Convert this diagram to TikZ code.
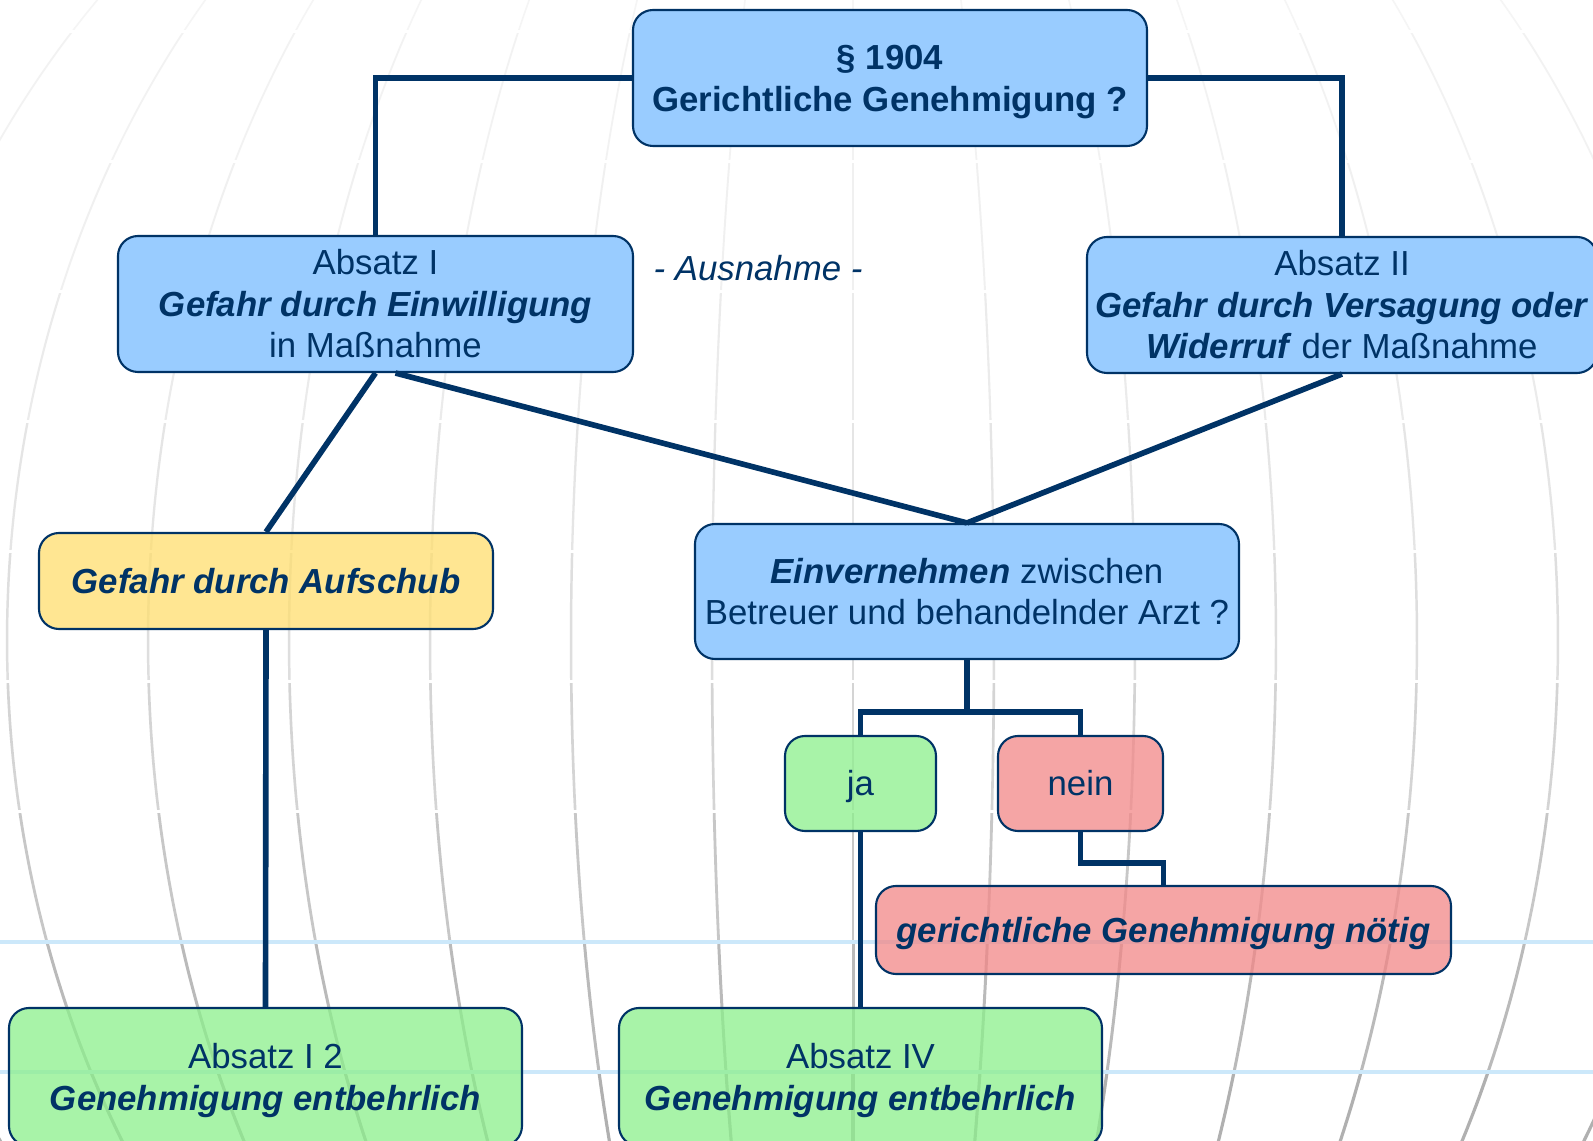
\documentclass[tikz,border=0pt]{standalone}
\usepackage{fontspec}
\setmainfont{Liberation Sans}
\usepackage{xcolor}
\usepackage{tikz}
\usetikzlibrary{positioning,calc}

\definecolor{navy}{RGB}{0,51,102}
\definecolor{skyfill}{RGB}{153,204,255}
\definecolor{sandfill}{RGB}{255,222,110}
\definecolor{leaffill}{RGB}{140,240,140}
\definecolor{rosefill}{RGB}{242,135,135}
\definecolor{paleline}{RGB}{204,232,250}

\begin{document}
\begin{tikzpicture}[
    every node/.style={text=navy, font=\fontsize{9.9pt}{11.8pt}\selectfont, align=center, inner sep=0pt},
    box/.style={draw=navy, line width=0.6pt, rounded corners=0.2cm, text height=9.5pt, text depth=2.5pt},
    tworow/.style={text height=21.3pt},
    threerow/.style={text height=33.1pt},
    bluebox/.style={box, fill=skyfill},
    yellowbox/.style={box, fill=sandfill, fill opacity=0.75, text opacity=1},
    greenbox/.style={box, fill=leaffill, fill opacity=0.75, text opacity=1},
    redbox/.style={box, fill=rosefill, fill opacity=0.75, text opacity=1},
    link/.style={draw=navy, line width=1.6pt}
]
    \useasboundingbox (0,0) rectangle (15.93,-11.41);
    \clip (0,0) rectangle (15.93,-11.41);
    \fill[white] (0,0) rectangle (15.93,-11.41);

    \foreach \ya/\yb/\g/\w in {0.00/0.30/4/0.45, 0.34/1.60/5/0.5, 1.64/2.90/6/0.55, 2.94/4.20/8/0.6, 4.24/5.50/10/0.65, 5.54/6.80/13/0.7, 6.84/8.10/17/0.75, 8.14/9.40/22/0.8, 9.44/10.70/27/0.85, 10.74/11.50/31/0.9} {
        \begin{scope}
            \clip (0,-\ya) rectangle (15.93,-\yb);
            \foreach \k in {-7,...,6}
                \draw[black!\g, line width=\w pt] plot[domain=-45:36, samples=40, smooth] ({8.53+1.41*(\k)*cos(\x)}, {-6.40-9.95*sin(\x)});
        \end{scope}
    }
    \foreach \y in {9.42,10.72}
        \draw[paleline, line width=1.1pt] (0,-\y) -- (15.93,-\y);

    \node (gen) [bluebox, tworow, minimum width=5.14cm, minimum height=1.36cm] at (8.90,-0.78) {\textbf{§ 1904}\\\textbf{Gerichtliche Genehmigung ?}};

    \node (absI) [bluebox, threerow, minimum width=5.15cm, minimum height=1.36cm] at (3.755,-3.04) {Absatz I\\\textbf{\textit{Gefahr durch Einwilligung}}\\in Maßnahme};
    \node (absII) [bluebox, threerow, minimum width=5.10cm, minimum height=1.36cm] at (13.42,-3.05) {Absatz II\\\textbf{\textit{Gefahr durch Versagung oder}}\\\textbf{\textit{Widerruf\nocorr}} der Maßnahme};
    \node (ausnahme) at (7.58,-2.68) {\textit{- Ausnahme -}};

    \node (aufschub) [yellowbox, minimum width=4.54cm, minimum height=0.96cm] at (2.66,-5.81) {\textbf{\textit{Gefahr durch Aufschub}}};
    \node (einv) [bluebox, tworow, minimum width=5.44cm, minimum height=1.35cm] at (9.67,-5.915) {\textbf{\textit{Einvernehmen\nocorr}} zwischen\\Betreuer und behandelnder Arzt ?};

    \node (ja) [greenbox, minimum width=1.51cm, minimum height=0.95cm] at (8.605,-7.835) {ja};
    \node (nein) [redbox, minimum width=1.65cm, minimum height=0.95cm] at (10.805,-7.835) {nein};
    \node (gericht) [redbox, minimum width=5.75cm, minimum height=0.88cm] at (11.635,-9.30) {\textbf{\textit{gerichtliche Genehmigung nötig}}};

    \node (absI2) [greenbox, tworow, minimum width=5.13cm, minimum height=1.38cm] at (2.655,-10.77) {Absatz I 2\\\textbf{\textit{Genehmigung entbehrlich}}};
    \node (absIV) [greenbox, tworow, minimum width=4.83cm, minimum height=1.38cm] at (8.605,-10.77) {Absatz IV\\\textbf{\textit{Genehmigung entbehrlich}}};

    \draw[link] (gen.west) -| (absI.north);
    \draw[link] (gen.east) -| (absII.north);

    \draw[link] (absI.south) -- (aufschub.north);
    \draw[link] ([xshift=0.2cm]absI.south) -- (einv.north);
    \draw[link] (absII.south) -- (einv.north);

    \draw[link] (einv.south) -- ++(0,-0.52) coordinate (split);
    \draw[link] (ja.north) |- (split) -| (nein.north);
    \draw[link] (ja.south) -- (absIV.north);
    \draw[link] (nein.south) -- ++(0,-0.31) -| (gericht.north);
    \draw[link] (aufschub.south) -- (absI2.north);
\end{tikzpicture}
\end{document}
